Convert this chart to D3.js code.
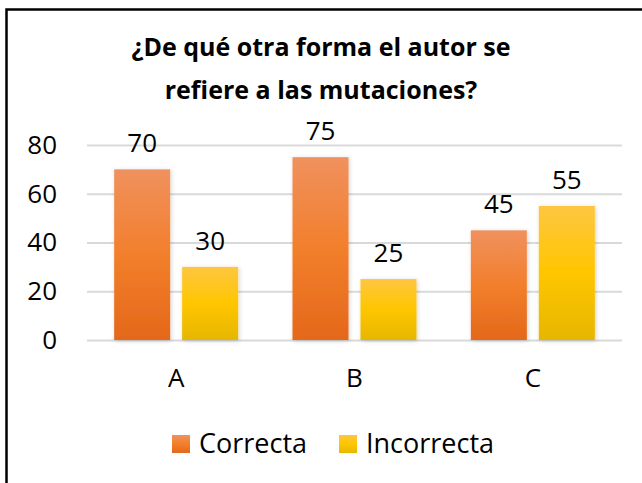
<!DOCTYPE html>
<html>
<head>
<meta charset="utf-8">
<script src="https://cdn.jsdelivr.net/npm/d3@7"></script>
<style>
    html, body { margin: 0; padding: 0; background: white; }
    svg { display: block; font-family: "Open Sans", sans-serif; }
</style>
</head>
<body>
<svg id="chart" width="642" height="483"></svg>
<script>
const categories = ["A", "B", "C"];
const seriesNames = ["Correcta", "Incorrecta"];
const correcta = [70, 75, 45];
const incorrecta = [30, 25, 55];
const yTicks = [0, 20, 40, 60, 80];
const titleLines = ["¿De qué otra forma el autor se", "refiere a las mutaciones?"];

const svg = d3.select("#chart");
const W = 642, H = 483;

const margin = { top: 145, right: 20, bottom: 143, left: 87 };
const width = W - margin.left - margin.right;
const height = H - margin.top - margin.bottom;

const colours = {
    Correcta: ["#F0915E", "#F27F2C", "#E4681A"],
    Incorrecta: ["#FEC640", "#FFC600", "#E6B600"]
};

const defs = svg.append("defs");
seriesNames.forEach((name, i) => {
    const g = defs.append("linearGradient")
        .attr("id", "grad-" + i)
        .attr("x1", 0).attr("y1", 0).attr("x2", 0).attr("y2", 1);
    g.selectAll("stop")
        .data(colours[name])
        .join("stop")
        .attr("offset", (d, j) => (j * 50) + "%")
        .attr("stop-color", d => d);
});
defs.append("filter")
    .attr("id", "shadow")
    .attr("x", "-20%").attr("y", "-10%").attr("width", "140%").attr("height", "120%")
    .append("feDropShadow")
    .attr("dx", 1).attr("dy", 1).attr("stdDeviation", 2)
    .attr("flood-color", "#000").attr("flood-opacity", 0.18);

// frame (top and left edges only are visible)
svg.append("path")
    .attr("d", `M6.5,${H + 2} V9.5 H${W + 2}`)
    .attr("fill", "none")
    .attr("stroke", "black")
    .attr("stroke-width", 2.5);

// title
svg.append("g")
    .selectAll("text")
    .data(titleLines)
    .join("text")
    .attr("x", 321)
    .attr("y", (d, i) => 56 + i * 43)
    .attr("text-anchor", "middle")
    .attr("font-weight", "bold")
    .attr("font-size", 25)
    .attr("fill", "black")
    .text(d => d);

const chartArea = svg.append("g")
    .attr("transform", `translate(${margin.left},${margin.top})`);

const x0 = d3.scaleBand()
    .domain(categories)
    .range([0, width]);

const groupW = 124;
const x1 = d3.scaleBand()
    .domain(seriesNames)
    .range([(x0.bandwidth() - groupW) / 2, (x0.bandwidth() + groupW) / 2])
    .paddingInner(0.176);

const y = d3.scaleLinear()
    .domain([0, 80])
    .range([height, 0]);

// gridlines + y labels
const yAxis = chartArea.append("g")
    .call(d3.axisLeft(y).tickValues(yTicks).tickSize(-width).tickPadding(30));
yAxis.select(".domain").remove();
yAxis.selectAll(".tick line")
    .attr("stroke", "#D9D9D9")
    .attr("stroke-width", 2);
yAxis.selectAll(".tick text")
    .attr("font-family", "Open Sans, sans-serif")
    .attr("font-size", 26)
    .attr("fill", "black");

// x labels
const xAxis = chartArea.append("g")
    .attr("transform", `translate(0,${height})`)
    .call(d3.axisBottom(x0).tickSize(0).tickPadding(29));
xAxis.select(".domain").remove();
xAxis.selectAll(".tick text")
    .attr("font-family", "Open Sans, sans-serif")
    .attr("font-size", 26)
    .attr("fill", "black");

const rows = categories.map((c, i) => ({
    category: c,
    values: [
        { series: "Correcta", idx: 0, value: correcta[i] },
        { series: "Incorrecta", idx: 1, value: incorrecta[i] }
    ]
}));

const groups = chartArea.selectAll("g.group")
    .data(rows)
    .join("g")
    .attr("class", "group")
    .attr("transform", d => `translate(${x0(d.category)},0)`);

groups.selectAll("rect")
    .data(d => d.values)
    .join("rect")
    .attr("x", d => x1(d.series))
    .attr("y", d => y(d.value))
    .attr("width", x1.bandwidth())
    .attr("height", d => height - y(d.value))
    .attr("fill", d => `url(#grad-${d.idx})`)
    .attr("filter", "url(#shadow)");

groups.selectAll("text.value")
    .data(d => d.values)
    .join("text")
    .attr("class", "value")
    .attr("x", d => x1(d.series) + x1.bandwidth() / 2)
    .attr("y", d => y(d.value) - 17)
    .attr("text-anchor", "middle")
    .attr("font-size", 26)
    .attr("fill", "black")
    .text(d => d.value);

// legend
const legendX = [172, 339];
const legend = svg.append("g")
    .selectAll("g")
    .data(seriesNames)
    .join("g")
    .attr("transform", (d, i) => `translate(${legendX[i]},435)`);
legend.append("rect")
    .attr("width", 18)
    .attr("height", 18)
    .attr("fill", (d, i) => `url(#grad-${i})`);
legend.append("text")
    .attr("x", 27)
    .attr("y", 18)
    .attr("font-size", 27)
    .attr("fill", "black")
    .text(d => d);
</script>
</body>
</html>
